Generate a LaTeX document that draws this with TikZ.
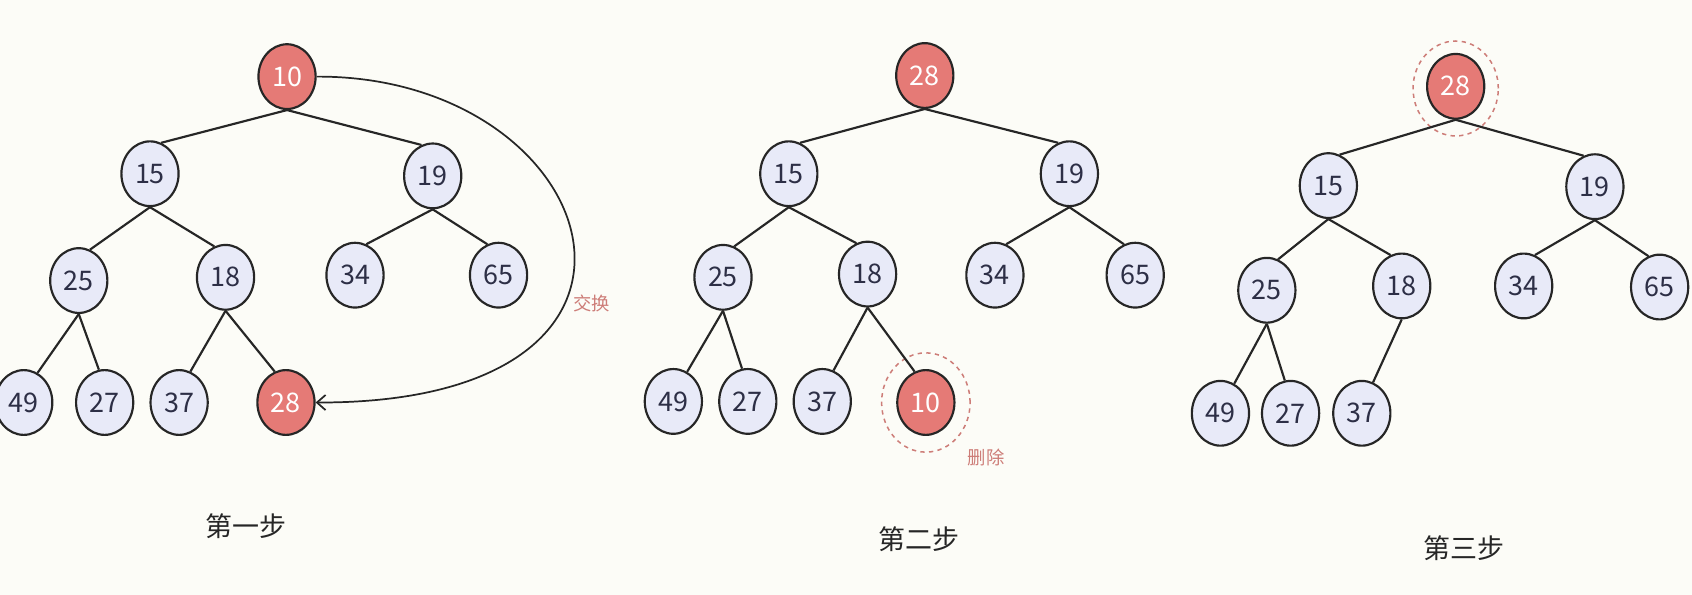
\documentclass[tikz,border=0pt]{standalone}
\usepackage{fontspec}
\usepackage{xcolor}
\usetikzlibrary{shapes.geometric,arrows.meta}
\newfontfamily\cjk{Noto Sans CJK SC}
\definecolor{paper}{RGB}{252,252,247}
\definecolor{keyblue}{RGB}{232,234,248}
\definecolor{keyred}{RGB}{229,122,118}
\definecolor{ink}{RGB}{45,47,70}
\definecolor{marker}{RGB}{205,125,120}

\begin{document}
\begin{tikzpicture}[x=0.5pt,y=-0.5pt,
    key/.style={ellipse, draw=black!85, line width=1pt, fill=keyblue, text=ink,
        minimum width=26.5pt, minimum height=30pt, inner sep=0pt,
        font=\cjk\fontsize{12.5}{13}\selectfont},
    hot/.style={key, fill=keyred, text=white},
    ring/.style={ellipse, draw=marker, dash pattern=on 2pt off 2pt, line width=0.7pt,
        minimum width=41pt, minimum height=46pt, inner sep=0pt},
    note/.style={text=marker, font=\cjk\fontsize{8.5}{9}\selectfont},
    stepname/.style={text=black!85, font=\cjk\fontsize{12.5}{13}\selectfont},
    link/.style={line width=1pt, black!85}]

    \fill[paper] (0,0) rectangle (1568,551);
    \useasboundingbox (0,0) rectangle (1568,551);

    % step one
    \node[hot] (a10) at (266,71) {10};
    \node[key] (a15) at (139,161) {15};
    \node[key] (a19) at (401,163) {19};
    \node[key] (a25) at (73,260) {25};
    \node[key] (a18) at (209,257) {18};
    \node[key] (a34) at (329,255) {34};
    \node[key] (a65) at (462,255) {65};
    \node[key] (a49) at (22,373) {49};
    \node[key] (a27) at (97,373) {27};
    \node[key] (a37) at (166,373) {37};
    \node[hot] (a28) at (265,373) {28};
    \foreach \p/\c/\a in {a10/a15/70,a10/a19/110,a15/a25/70,a15/a18/110,a19/a34/70,
        a19/a65/110,a25/a49/65,a25/a27/100,a18/a37/70,a18/a28/110}
        \draw[link] (\p.south) -- (\c.\a);
    \draw[line width=0.8pt, black!85, -{Straight Barb[length=4pt,width=7pt]}]
        (a10.east) .. controls (560,70) and (660,374) .. (a28.east);
    \node[note] (swap) at (548,281) {交换};
    \node[stepname] (step1) at (228,488) {第一步};

    % step two
    \node[ring] (b10ring) at (858,373) {};
    \node[hot] (b28) at (857,70) {28};
    \node[key] (b15) at (731,161) {15};
    \node[key] (b19) at (991,161) {19};
    \node[key] (b25) at (670,257) {25};
    \node[key] (b18) at (804,254) {18};
    \node[key] (b34) at (922,255) {34};
    \node[key] (b65) at (1052,255) {65};
    \node[key] (b49) at (624,372) {49};
    \node[key] (b27) at (693,372) {27};
    \node[key] (b37) at (762,372) {37};
    \node[hot] (b10) at (858,373) {10};
    \foreach \p/\c/\a in {b28/b15/70,b28/b19/110,b15/b25/70,b15/b18/110,b19/b34/70,
        b19/b65/110,b25/b49/65,b25/b27/100,b18/b37/70,b18/b10/110}
        \draw[link] (\p.south) -- (\c.\a);
    \node[note] (drop) at (914,424) {删除};
    \node[stepname] (step2) at (852,500) {第二步};

    % step three
    \node[ring, minimum width=39.5pt, minimum height=44pt] (c28ring) at (1349,82) {};
    \node[hot] (c28) at (1349,80) {28};
    \node[key] (c15) at (1231,172) {15};
    \node[key] (c19) at (1478,173) {19};
    \node[key] (c25) at (1174,269) {25};
    \node[key] (c18) at (1299,265) {18};
    \node[key] (c34) at (1412,265) {34};
    \node[key] (c65) at (1538,266) {65};
    \node[key] (c49) at (1131,383) {49};
    \node[key] (c27) at (1196,383) {27};
    \node[key] (c37) at (1262,383) {37};
    \foreach \p/\c/\a in {c28/c15/70,c28/c19/110,c15/c25/70,c15/c18/110,c19/c34/70,
        c19/c65/110,c25/c49/65,c25/c27/100,c18/c37/70}
        \draw[link] (\p.south) -- (\c.\a);
    \node[stepname] (step3) at (1357,508) {第三步};
\end{tikzpicture}
\end{document}
